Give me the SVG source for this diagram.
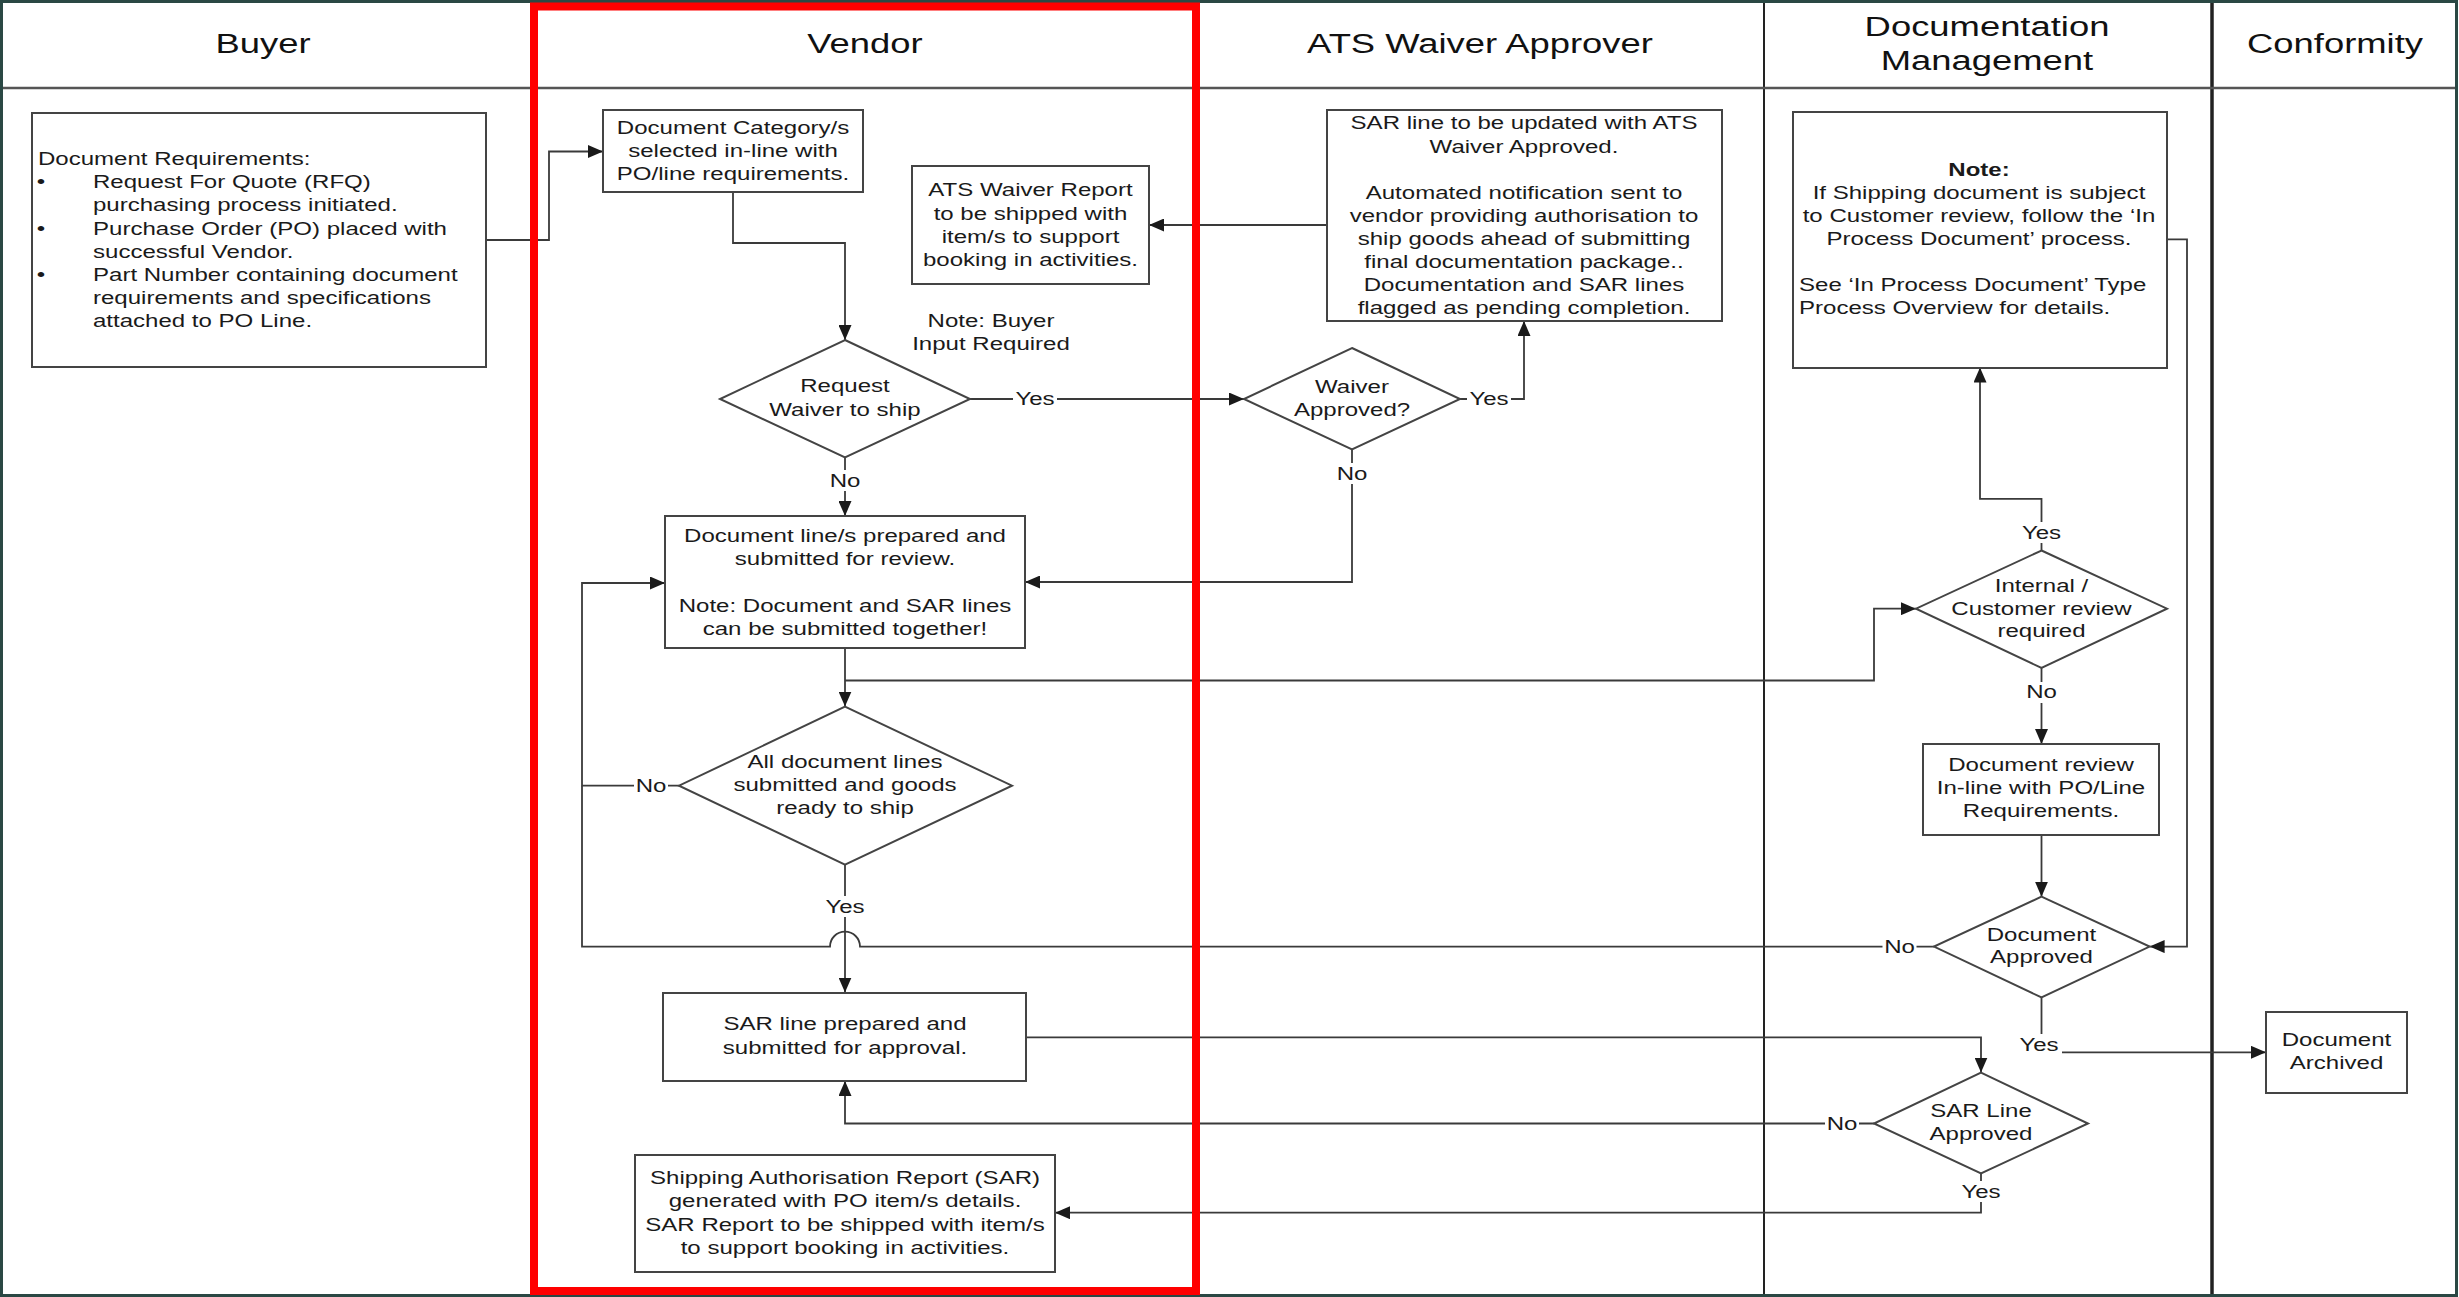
<svg xmlns="http://www.w3.org/2000/svg" width="2459" height="1297" viewBox="0 0 2459 1297">
<defs>
<style>
.t{font-family:"Liberation Sans",Arial,sans-serif;font-size:18.5px;fill:#1a1a1a;text-anchor:middle}
.tl{font-family:"Liberation Sans",Arial,sans-serif;font-size:18.5px;fill:#1a1a1a;text-anchor:start}
.h{font-family:"Liberation Sans",Arial,sans-serif;font-size:28px;fill:#111;text-anchor:middle}
.b{font-weight:bold}
.box{fill:#fff;stroke:#444;stroke-width:2}
.lane{stroke:#222;stroke-width:2;fill:none}
.c{fill:none;stroke:#3a3a3a;stroke-width:1.8}
.ca{fill:none;stroke:#3a3a3a;stroke-width:1.8;marker-end:url(#arr)}
.lb{fill:#fff;stroke:none}
</style>
<marker id="arr" markerUnits="userSpaceOnUse" markerWidth="16" markerHeight="13" refX="15" refY="6.5" orient="auto"><path d="M0,0 L15,6.5 L0,13 z" fill="#1a1a1a"/></marker>
</defs>
<rect x="0" y="0" width="2459" height="1297" fill="#fff"/>

<g id="lanes">
<line class="lane" x1="534" y1="2" x2="534" y2="1295"/>
<line class="lane" x1="1196" y1="2" x2="1196" y2="1295"/>
<line class="lane" x1="1764" y1="2" x2="1764" y2="1295"/>
<line class="lane" x1="2212" y1="2" x2="2212" y2="1295" style="stroke-width:3.5"/>
<line x1="2" y1="88" x2="2456" y2="88" stroke="#555" stroke-width="2.5"/>
<rect x="1.5" y="1.5" width="2455" height="1294" fill="none" stroke="#2a4844" stroke-width="3"/>
<text class="h" transform="translate(263 0) scale(1.3 1)" x="0" y="53.5">Buyer</text>
<text class="h" transform="translate(865 0) scale(1.3 1)" x="0" y="53.5">Vendor</text>
<text class="h" transform="translate(1480 0) scale(1.3 1)" x="0" y="53.5">ATS Waiver Approver</text>
<text class="h" transform="translate(1987 0) scale(1.3 1)"><tspan x="0" y="36">Documentation</tspan><tspan x="0" y="70">Management</tspan></text>
<text class="h" transform="translate(2335 0) scale(1.3 1)" x="0" y="53.5">Conformity</text>
</g>

<g id="connectors">
<path class="ca" d="M486 240 H549 V151.5 H603"/>
<path class="ca" d="M733 192 V243 H845 V340"/>
<path class="ca" d="M970 399 H1244"/>
<path class="ca" d="M845 457.5 V516"/>
<path class="ca" d="M1460 399 H1524 V321"/>
<path class="ca" d="M1352 449.5 V582 H1025"/>
<path class="ca" d="M1327 225 H1149"/>
<path class="ca" d="M845 648 V706.5"/>
<path class="ca" d="M845 680.5 H1874 V608.7 H1916"/>
<path class="ca" d="M679 785.7 H582 V583 H665"/>
<path class="c" d="M1934 946.6 H860 A15 15 0 0 0 830 946.6 H582 V785.7"/>
<path class="ca" d="M845 864.7 V992.6"/>
<path class="ca" d="M2041.5 550.5 V498.8 H1980 V367.5"/>
<path class="ca" d="M2041.5 668 V744"/>
<path class="ca" d="M2041.5 834.6 V896.7"/>
<path class="ca" d="M2167 239.3 H2187 V946.6 H2149.6"/>
<path class="ca" d="M2041.5 997.5 V1052.3 H2266"/>
<path class="ca" d="M1026 1037.3 H1981 V1072.6"/>
<path class="ca" d="M1874 1123.5 H845 V1081"/>
<path class="ca" d="M1981 1173.5 V1212.7 H1055"/>
<g id="labels">
<rect class="lb" x="1013" y="389" width="44" height="21"/><text class="t" transform="translate(1035 0) scale(1.3 1)" x="0" y="405.5">Yes</text>
<rect class="lb" x="828" y="470" width="34" height="21"/><text class="t" transform="translate(845 0) scale(1.3 1)" x="0" y="487">No</text>
<rect class="lb" x="1467" y="389" width="44" height="21"/><text class="t" transform="translate(1489 0) scale(1.3 1)" x="0" y="405.5">Yes</text>
<rect class="lb" x="1335" y="463" width="34" height="21"/><text class="t" transform="translate(1352 0) scale(1.3 1)" x="0" y="480">No</text>
<rect class="lb" x="634" y="775" width="34" height="21"/><text class="t" transform="translate(651 0) scale(1.3 1)" x="0" y="792">No</text>
<rect class="lb" x="823" y="896" width="44" height="21"/><text class="t" transform="translate(845 0) scale(1.3 1)" x="0" y="913">Yes</text>
<rect class="lb" x="2019.5" y="522" width="44" height="21"/><text class="t" transform="translate(2041.5 0) scale(1.3 1)" x="0" y="539">Yes</text>
<rect class="lb" x="2024.5" y="682" width="34" height="21"/><text class="t" transform="translate(2041.5 0) scale(1.3 1)" x="0" y="698.5">No</text>
<rect class="lb" x="1882.5" y="936" width="34" height="21"/><text class="t" transform="translate(1899.5 0) scale(1.3 1)" x="0" y="953">No</text>
<rect class="lb" x="2017" y="1034" width="45" height="22"/><text class="t" transform="translate(2039 0) scale(1.3 1)" x="0" y="1051.5">Yes</text>
<rect class="lb" x="1825" y="1113" width="34" height="21"/><text class="t" transform="translate(1842 0) scale(1.3 1)" x="0" y="1130">No</text>
<rect class="lb" x="1959" y="1181" width="44" height="21"/><text class="t" transform="translate(1981 0) scale(1.3 1)" x="0" y="1198">Yes</text>
</g>
</g>

<g id="buyer-requirements">
<rect class="box" x="32" y="113" width="454" height="254"/>
<text class="tl" transform="translate(38 0) scale(1.3 1)" x="0" y="165">Document Requirements:</text>
<text class="t" transform="translate(41 0) scale(1.3 1)"><tspan x="0" y="188.2">•</tspan><tspan x="0" y="234.6">•</tspan><tspan x="0" y="281">•</tspan></text>
<text class="tl" transform="translate(93 0) scale(1.3 1)"><tspan x="0" y="188.2">Request For Quote (RFQ)</tspan><tspan x="0" y="211.4">purchasing process initiated.</tspan><tspan x="0" y="234.6">Purchase Order (PO) placed with</tspan><tspan x="0" y="257.8">successful Vendor.</tspan><tspan x="0" y="281">Part Number containing document</tspan><tspan x="0" y="304.2">requirements and specifications</tspan><tspan x="0" y="327.4">attached to PO Line.</tspan></text>
</g>

<g id="doc-category">
<rect class="box" x="603" y="110" width="260" height="82"/>
<text class="t" transform="translate(733 0) scale(1.3 1)"><tspan x="0" y="134">Document Category/s</tspan><tspan x="0" y="157.2">selected in-line with</tspan><tspan x="0" y="180.4">PO/line requirements.</tspan></text>
</g>

<g id="ats-report">
<rect class="box" x="912" y="166" width="237" height="118"/>
<text class="t" transform="translate(1030.5 0) scale(1.3 1)"><tspan x="0" y="196.5">ATS Waiver Report</tspan><tspan x="0" y="219.7">to be shipped with</tspan><tspan x="0" y="242.9">item/s to support</tspan><tspan x="0" y="266">booking in activities.</tspan></text>
</g>

<g id="note-buyer">
<text class="t" transform="translate(991 0) scale(1.3 1)"><tspan x="0" y="327.5">Note: Buyer</tspan><tspan x="0" y="350.5">Input Required</tspan></text>
</g>

<g id="request-waiver">
<polygon class="box" points="845,340 970,399 845,457.5 720,399"/>
<text class="t" transform="translate(845 0) scale(1.3 1)"><tspan x="0" y="392.5">Request</tspan><tspan x="0" y="415.7">Waiver to ship</tspan></text>
</g>

<g id="doc-line">
<rect class="box" x="665" y="516" width="360" height="132"/>
<text class="t" transform="translate(845 0) scale(1.3 1)"><tspan x="0" y="542">Document line/s prepared and</tspan><tspan x="0" y="565.2">submitted for review.</tspan><tspan x="0" y="611.6">Note: Document and SAR lines</tspan><tspan x="0" y="634.8">can be submitted together!</tspan></text>
</g>

<g id="all-doc">
<polygon class="box" points="845,706.7 1012,785.7 845,864.7 679,785.7"/>
<text class="t" transform="translate(845 0) scale(1.3 1)"><tspan x="0" y="768">All document lines</tspan><tspan x="0" y="791.2">submitted and goods</tspan><tspan x="0" y="814.4">ready to ship</tspan></text>
</g>

<g id="sar-line">
<rect class="box" x="663" y="993" width="363" height="88"/>
<text class="t" transform="translate(845 0) scale(1.3 1)"><tspan x="0" y="1030.5">SAR line prepared and</tspan><tspan x="0" y="1053.7">submitted for approval.</tspan></text>
</g>

<g id="sar-report">
<rect class="box" x="635" y="1155" width="420" height="117"/>
<text class="t" transform="translate(845 0) scale(1.3 1)"><tspan x="0" y="1184.3">Shipping Authorisation Report (SAR)</tspan><tspan x="0" y="1207.5">generated with PO item/s details.</tspan><tspan x="0" y="1230.7">SAR Report to be shipped with item/s</tspan><tspan x="0" y="1253.9">to support booking in activities.</tspan></text>
</g>

<g id="sar-update">
<rect class="box" x="1327" y="110" width="395" height="211"/>
<text class="t" transform="translate(1524 0) scale(1.3 1)"><tspan x="0" y="129.5">SAR line to be updated with ATS</tspan><tspan x="0" y="152.6">Waiver Approved.</tspan><tspan x="0" y="198.8">Automated notification sent to</tspan><tspan x="0" y="221.9">vendor providing authorisation to</tspan><tspan x="0" y="245">ship goods ahead of submitting</tspan><tspan x="0" y="268.1">final documentation package..</tspan><tspan x="0" y="291.2">Documentation and SAR lines</tspan><tspan x="0" y="314.3">flagged as pending completion.</tspan></text>
</g>

<g id="waiver-approved">
<polygon class="box" points="1352,348 1460,399 1352,449.5 1244,399"/>
<text class="t" transform="translate(1352 0) scale(1.3 1)"><tspan x="0" y="393">Waiver</tspan><tspan x="0" y="416">Approved?</tspan></text>
</g>

<g id="note-inprocess">
<rect class="box" x="1793" y="112" width="374" height="256"/>
<text class="t b" transform="translate(1979 0) scale(1.3 1)" x="0" y="176">Note:</text>
<text class="t" transform="translate(1979 0) scale(1.3 1)"><tspan x="0" y="199.3">If Shipping document is subject</tspan><tspan x="0" y="222.5">to Customer review, follow the ‘In</tspan><tspan x="0" y="245.4">Process Document’ process.</tspan></text>
<text class="tl" transform="translate(1799 0) scale(1.3 1)"><tspan x="0" y="291.5">See ‘In Process Document’ Type</tspan><tspan x="0" y="314.2">Process Overview for details.</tspan></text>
</g>

<g id="internal-review">
<polygon class="box" points="2041.5,550.5 2167,608.7 2041.5,668 1916,608.7"/>
<text class="t" transform="translate(2041.5 0) scale(1.3 1)"><tspan x="0" y="592">Internal /</tspan><tspan x="0" y="614.8">Customer review</tspan><tspan x="0" y="637.4">required</tspan></text>
</g>

<g id="doc-review">
<rect class="box" x="1923" y="744" width="236" height="91"/>
<text class="t" transform="translate(2041 0) scale(1.3 1)"><tspan x="0" y="771.3">Document review</tspan><tspan x="0" y="794.2">In-line with PO/Line</tspan><tspan x="0" y="817.3">Requirements.</tspan></text>
</g>

<g id="doc-approved">
<polygon class="box" points="2041.5,896.7 2149.6,946.6 2041.5,997.5 1934,946.6"/>
<text class="t" transform="translate(2041.5 0) scale(1.3 1)"><tspan x="0" y="941">Document</tspan><tspan x="0" y="963.4">Approved</tspan></text>
</g>

<g id="sar-line-approved">
<polygon class="box" points="1981,1072.6 2088,1123.5 1981,1173.5 1874,1123.5"/>
<text class="t" transform="translate(1981 0) scale(1.3 1)"><tspan x="0" y="1117">SAR Line</tspan><tspan x="0" y="1139.7">Approved</tspan></text>
</g>

<g id="doc-archived">
<rect class="box" x="2266" y="1012" width="141" height="81"/>
<text class="t" transform="translate(2336.5 0) scale(1.3 1)"><tspan x="0" y="1046.2">Document</tspan><tspan x="0" y="1069.4">Archived</tspan></text>
</g>

<rect id="vendor-highlight" x="534" y="6.5" width="662" height="1284.5" fill="none" stroke="#ff0000" stroke-width="8"/>
</svg>
